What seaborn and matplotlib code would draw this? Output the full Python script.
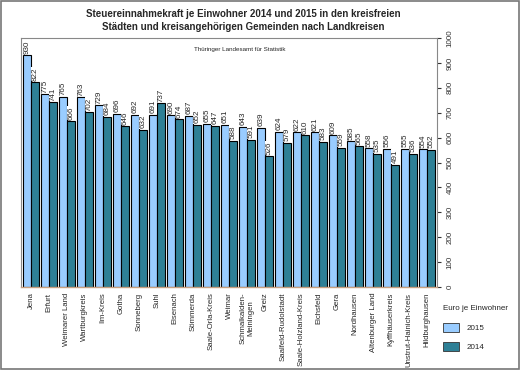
import pandas as pd
import matplotlib
matplotlib.use("Agg")
import matplotlib.pyplot as plt
import seaborn as sns
from matplotlib.patches import Patch

# Daten
kreise = ["Jena", "Erfurt", "Weimarer Land", "Wartburgkreis", "Ilm-Kreis", "Gotha",
          "Sonneberg", "Suhl", "Eisenach", "Sömmerda", "Saale-Orla-Kreis", "Weimar",
          "Schmalkalden-\nMeiningen", "Greiz", "Saalfeld-Rudolstadt", "Saale-Holzland-Kreis",
          "Eichsfeld", "Gera", "Nordhausen", "Altenburger Land", "Kyffhäuserkreis",
          "Unstrut-Hainich-Kreis", "Hildburghausen"]
werte_2015 = [930, 775, 765, 763, 729, 696, 692, 691, 690, 687, 655, 651,
              643, 639, 624, 622, 621, 609, 585, 558, 556, 555, 554]
werte_2014 = [822, 741, 666, 702, 684, 646, 632, 737, 674, 652, 647, 588,
              591, 526, 579, 610, 583, 559, 565, 535, 491, 536, 552]
jahre = ["2015", "2014"]
farben = {"2015": "#99ccff", "2014": "#2e8096"}

df = pd.DataFrame({
    "Kreis": kreise * 2,
    "Jahr": ["2015"] * len(kreise) + ["2014"] * len(kreise),
    "Wert": werte_2015 + werte_2014,
})

sns.set_style("white")
plt.rcParams["font.family"] = ["Liberation Sans", "DejaVu Sans"]

fig = plt.figure(figsize=(5.2, 3.7), dpi=100)
ax = fig.add_axes([21 / 520, 1 - 287 / 370, (437 - 21) / 520, (287 - 38) / 370])

sns.barplot(data=df, x="Kreis", y="Wert", hue="Jahr", hue_order=jahre, order=kreise,
            palette=farben, width=0.9, edgecolor="black", linewidth=0.8,
            saturation=1, legend=False, ax=ax)

# Wertebeschriftung über den Balken
for cont in ax.containers:
    for bar in cont:
        h = bar.get_height()
        ax.text(bar.get_x() + bar.get_width() / 2, h + 6, f"{h:.0f}", rotation=90,
                ha="center", va="bottom", fontsize=5.8,
                bbox=dict(facecolor="white", edgecolor="none", pad=0.3))

ax.set_xlim(-0.55, len(kreise) - 0.45)
ax.set_ylim(0, 1000)
ax.yaxis.tick_right()
ax.set_yticks(range(0, 1001, 100))
ax.tick_params(axis="y", labelrotation=90, labelsize=5.8, length=3, pad=4,
               colors="#333333", right=True)
for lbl in ax.get_yticklabels():
    lbl.set_va("center")
ax.tick_params(axis="x", labelrotation=90, labelsize=5.6, length=0, pad=4)
for lbl in ax.get_xticklabels():
    lbl.set_va("top")
    lbl.set_ha("center")
ax.set_xlabel("")
ax.set_ylabel("")
for s in ["top", "left", "right"]:
    ax.spines[s].set_color("#888888")
    ax.spines[s].set_linewidth(0.8)
ax.spines["bottom"].set_color("#c8a080")
ax.spines["bottom"].set_linewidth(1)

ax.text(0.526, 0.953, "Thüringer Landesamt für Statistik", transform=ax.transAxes,
        ha="center", va="center", fontsize=4.5)

fig.text(0.467, 0.962, "Steuereinnahmekraft je Einwohner 2014 und 2015 in den kreisfreien",
         ha="center", va="center", fontsize=7, fontweight="bold")
fig.text(0.467, 0.926, "Städten und kreisangehörigen Gemeinden nach Landkreisen",
         ha="center", va="center", fontsize=7, fontweight="bold")

handles = [Patch(facecolor=farben[j], edgecolor="#333333", linewidth=0.6) for j in jahre]
leg = fig.legend(handles, jahre, title="Euro je Einwohner", loc="upper left",
                 bbox_to_anchor=(436 / 520, 1 - 298 / 370), frameon=False, fontsize=5.8,
                 title_fontsize=5.8, handlelength=1.9, handleheight=1.3, labelspacing=1.3,
                 handletextpad=1.0, alignment="left")

# grauer Rahmen um die Grafik
fig.patches.append(plt.Rectangle((0.002, 0.003), 0.996, 0.994, transform=fig.transFigure,
                                 fill=False, edgecolor="#777777", linewidth=1.2))

fig.savefig("out.png", dpi=100)
